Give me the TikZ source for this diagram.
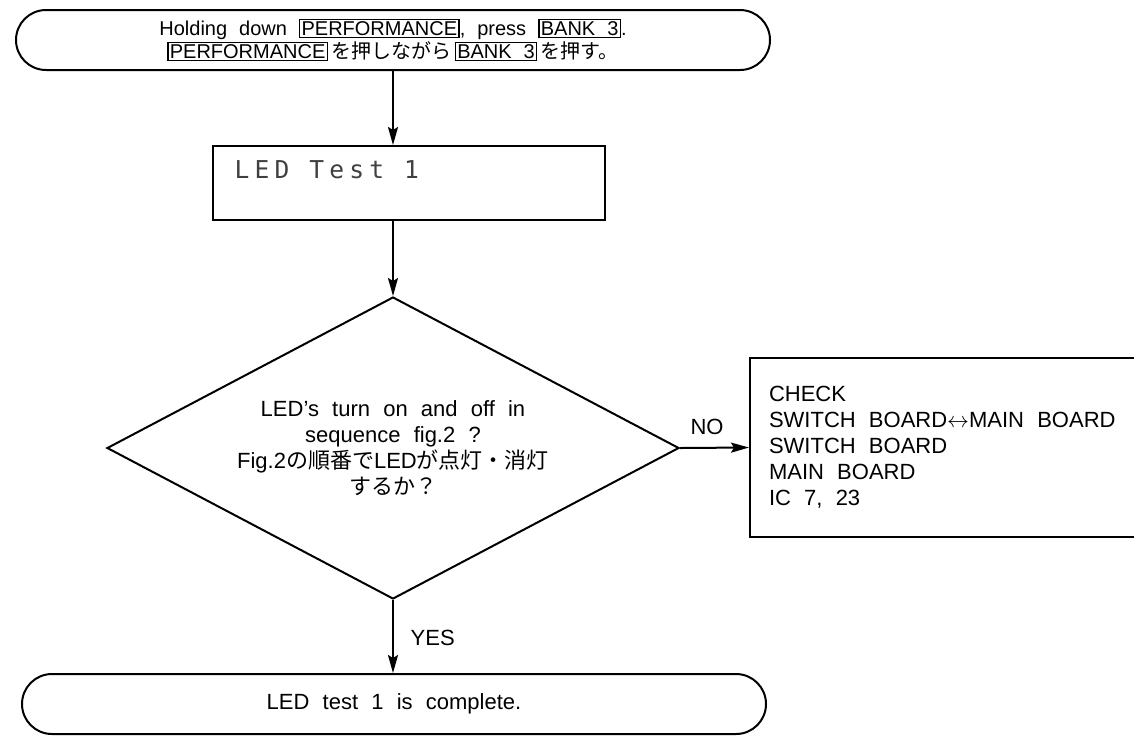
\documentclass[tikz,border=0pt]{standalone}
\usepackage{fontspec}
\setmainfont{Liberation Sans}
\newfontfamily\jpfont{Noto Sans CJK JP}
\newfontfamily\lcdfont[LetterSpace=21]{DejaVu Sans Mono}
\usetikzlibrary{positioning,shapes.geometric,arrows.meta}
\newcommand\jp[1]{{\jpfont #1}}
\newcommand\keycap[1]{{\setlength\fboxsep{0.6pt}\setlength\fboxrule{0.7pt}\fbox{\vphantom{A}\smash{#1}}}}

\begin{document}
\begin{tikzpicture}[x=0.5pt,y=-0.5pt,line width=1pt,
  wide/.style={execute at begin node={\spaceskip=0.6em plus 0.1em\relax}},
  flow/.style={-{Stealth[length=9pt,width=5pt,inset=1.5pt]}},
  term/.style={draw,rounded corners=15pt,minimum height=30pt,inner sep=0pt,align=center,wide},
  lcdbox/.style={draw,minimum width=196pt,minimum height=37pt},
  test/.style={draw,diamond,aspect=1.9,minimum width=286pt,minimum height=151pt,inner sep=0pt,align=center,
    font=\fontsize{11}{13}\selectfont,wide},
  checkbox/.style={draw,minimum width=200pt,minimum height=89.5pt,text width=181pt,inner xsep=9.5pt,
    align=left,font=\fontsize{11}{13}\selectfont,wide}]
\useasboundingbox (0,0) rectangle (1134,735);
\clip (0,0) rectangle (1134,735);
\node[term,minimum width=377pt,font=\fontsize{10}{10.5}\selectfont] (S) at (393,40)
  {Holding down \keycap{PERFORMANCE}, press \keycap{BANK\ 3}.\\
   \keycap{PERFORMANCE}\,\jp{を押しながら}\,\keycap{BANK\ 3}\,\jp{を押す。}}; % Start
\node[lcdbox] (L) at (409,183) {}; % Display
\node[right = 7pt of {(213,170)},text=black!75,font=\lcdfont\fontsize{12.3}{14}\selectfont] (Lt) {LED Test 1};
\node[test] (D) at (393,448)
  {LED’s turn on and off in\\
   sequence fig.2 ?\\
   Fig.2\jp{の順番で}LED\jp{が点灯・消灯}\\
   \jp{するか？}}; % Decision
\node[checkbox] (C) at (950,447.5)
  {CHECK\\
   SWITCH BOARD$\leftrightarrow$MAIN BOARD\\
   SWITCH BOARD\\
   MAIN BOARD\\
   IC 7, 23}; % Check list
\node[term,minimum width=372pt,font=\fontsize{11}{12}\selectfont] (E) at (394,704)
  {LED test 1 is complete.}; % End
%% Connectors and their labels.
\draw[flow] (S.south -| D.north) -- (L.north -| D.north);
\draw[flow] (L.south -| D.north) -- (D.north);
\draw[flow] (D.east) -- (C.west);
\draw[flow] (D.south) -- (E.north -| D.south);
\node[font=\fontsize{11}{12}\selectfont] (no) at (707,427) {NO};
\node[font=\fontsize{11}{12}\selectfont,right = 5pt of {(393,638)}] (yes) {YES};
\end{tikzpicture}
\end{document}
